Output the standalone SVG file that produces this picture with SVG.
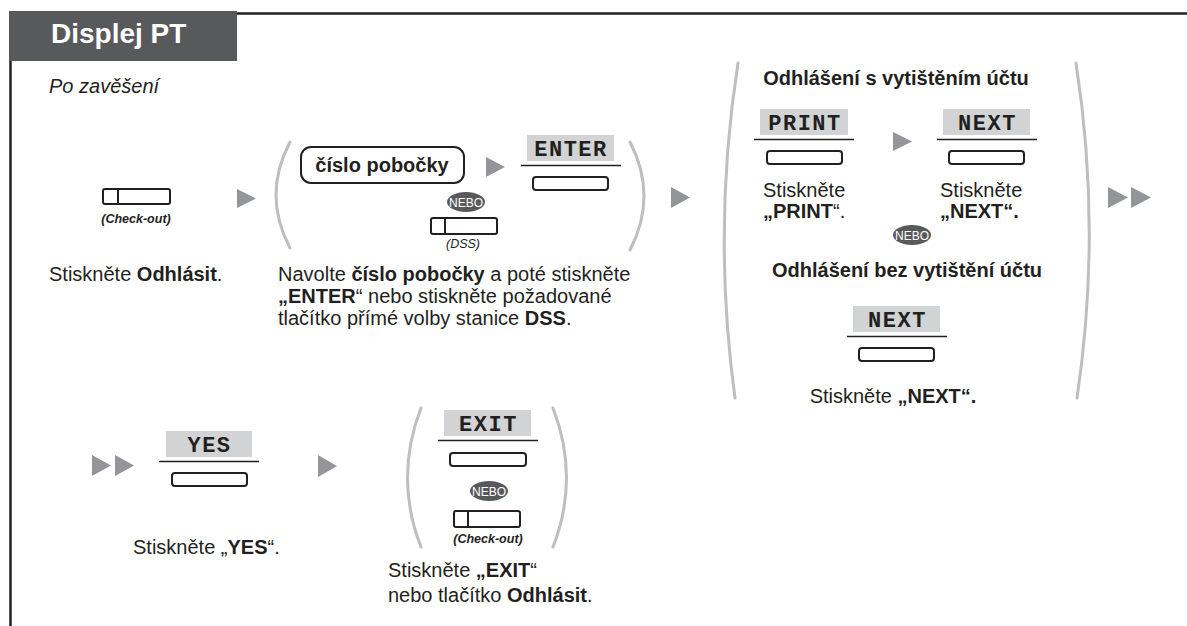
<svg xmlns="http://www.w3.org/2000/svg" width="1187" height="626" viewBox="0 0 1187 626">
<defs>
<style>
.t{font-family:"Liberation Sans",Arial,sans-serif;font-size:20px;fill:#231f20}
.b{font-weight:bold}
.mono{font-family:"Liberation Mono","Courier New",monospace;font-weight:bold;font-size:22px;letter-spacing:1.5px;fill:#231f20;text-anchor:middle}
.lbg{fill:#d1d3d4}
.rule{stroke:#231f20;stroke-width:1.5}
.btn{fill:#fff;stroke:#231f20;stroke-width:2}
.par{fill:none;stroke:#bcbec0;stroke-width:3;stroke-linecap:round}
.arr{fill:#939598}
.nebo{fill:#58595b}
.nt{font-family:"Liberation Sans",Arial,sans-serif;font-size:12px;fill:#fff;text-anchor:middle}
.co{font-family:"Liberation Sans",Arial,sans-serif;font-size:12.5px;font-style:italic;font-weight:bold;fill:#231f20;text-anchor:middle}
</style>
</defs>
<rect width="1187" height="626" fill="#fff"/>
<g id="frame">
<line x1="10.5" y1="11" x2="10.5" y2="626" stroke="#231f20" stroke-width="2.5"/>
<line x1="237" y1="13.5" x2="1187" y2="13.5" stroke="#231f20" stroke-width="2.5"/>
<rect x="9" y="11" width="228" height="50" fill="#58595b"/>
<text x="51" y="43" font-family="Liberation Sans,Arial,sans-serif" font-size="28" font-weight="bold" fill="#fff">Displej PT</text>
<text x="49" y="93" class="t" font-style="italic">Po zavěšení</text>
</g>
<g id="checkout">
<rect x="103" y="189" width="67" height="15" rx="2" class="btn"/>
<line x1="118" y1="189" x2="118" y2="204" stroke="#231f20" stroke-width="2"/>
<text x="136" y="223" class="co">(Check-out)</text>
<text x="49" y="281" class="t" font-size="18.5">Stiskněte <tspan class="b">Odhlásit</tspan>.</text>
</g>
<g id="extension">
<path class="par" d="M290 142 Q262 195 290 248"/>
<path class="par" d="M630 142 Q658 196 630 250"/>
<rect x="301" y="147" width="163" height="36" rx="10" fill="#fff" stroke="#231f20" stroke-width="2"/>
<text x="382" y="172" class="t b" font-size="16" text-anchor="middle">číslo pobočky</text>
<ellipse cx="466" cy="202" rx="19" ry="10" class="nebo"/>
<text x="466" y="206.5" class="nt">NEBO</text>
<rect x="431" y="218" width="66" height="16" rx="2" class="btn"/>
<line x1="445" y1="218" x2="445" y2="234" stroke="#231f20" stroke-width="2"/>
<text x="463" y="248" font-family="Liberation Sans,Arial,sans-serif" font-size="12.5" font-style="italic" fill="#231f20" text-anchor="middle">(DSS)</text>
<rect x="527" y="135" width="87" height="26" class="lbg"/>
<text x="571" y="156" class="mono">ENTER</text>
<line x1="521" y1="165.5" x2="621" y2="165.5" class="rule"/>
<rect x="533" y="177" width="75" height="13" rx="3" class="btn"/>
<text x="278" y="281" class="t">Navolte <tspan class="b">číslo pobočky</tspan> a poté stiskněte</text>
<text x="278" y="303" class="t"><tspan class="b">„ENTER</tspan>“ nebo stiskněte požadované</text>
<text x="278" y="325" class="t">tlačítko přímé volby stanice <tspan class="b">DSS</tspan>.</text>
</g>
<g id="print-next">
<path class="par" d="M738 63 Q712 230 735 398"/>
<path class="par" d="M1076 63 Q1102 230 1077 398"/>
<text x="896" y="85" class="t b" text-anchor="middle">Odhlášení s vytištěním účtu</text>
<rect x="760" y="109" width="88" height="26" class="lbg"/>
<text x="805" y="130" class="mono">PRINT</text>
<line x1="754" y1="139.5" x2="854" y2="139.5" class="rule"/>
<rect x="767" y="151" width="75" height="13" rx="3" class="btn"/>
<text x="763" y="197" class="t" font-size="19.5">Stiskněte</text>
<text x="763" y="218" class="t" font-size="19.5"><tspan class="b">„PRINT</tspan>“.</text>
<rect x="943" y="109" width="87" height="26" class="lbg"/>
<text x="987.5" y="130" class="mono">NEXT</text>
<line x1="937" y1="139.5" x2="1037" y2="139.5" class="rule"/>
<rect x="949" y="151" width="75" height="13" rx="3" class="btn"/>
<text x="940" y="197" class="t" font-size="19.5">Stiskněte</text>
<text x="940" y="218" class="t b" font-size="19.5">„NEXT“.</text>
<ellipse cx="912" cy="235" rx="19" ry="10" class="nebo"/>
<text x="912" y="239.5" class="nt">NEBO</text>
<text x="907" y="277" class="t b" text-anchor="middle">Odhlášení bez vytištění účtu</text>
<rect x="853" y="306" width="87" height="26" class="lbg"/>
<text x="897.5" y="327" class="mono">NEXT</text>
<line x1="847" y1="336.5" x2="947" y2="336.5" class="rule"/>
<rect x="859" y="348" width="75" height="13" rx="3" class="btn"/>
<text x="893" y="403" class="t" text-anchor="middle">Stiskněte <tspan class="b">„NEXT“.</tspan></text>
</g>
<g id="yes">
<rect x="166" y="431" width="86" height="26" class="lbg"/>
<text x="209.5" y="452" class="mono">YES</text>
<line x1="159" y1="461.5" x2="259" y2="461.5" class="rule"/>
<rect x="172" y="473" width="75" height="13" rx="3" class="btn"/>
<text x="133" y="554" class="t" font-size="19">Stiskněte „<tspan class="b">YES</tspan>“.</text>
</g>
<g id="exit">
<path class="par" d="M421 408 Q394 478 421 547"/>
<path class="par" d="M553 408 Q580 478 553 547"/>
<rect x="444" y="410" width="87" height="26" class="lbg"/>
<text x="488.5" y="431" class="mono">EXIT</text>
<line x1="438" y1="440.5" x2="538" y2="440.5" class="rule"/>
<rect x="450" y="453" width="76" height="13" rx="3" class="btn"/>
<ellipse cx="489" cy="491" rx="19" ry="10" class="nebo"/>
<text x="489" y="495.5" class="nt">NEBO</text>
<rect x="454" y="511" width="66" height="16" rx="2" class="btn"/>
<line x1="468" y1="511" x2="468" y2="527" stroke="#231f20" stroke-width="2"/>
<text x="488" y="543" class="co">(Check-out)</text>
<text x="388" y="577" class="t">Stiskněte <tspan class="b">„EXIT</tspan>“</text>
<text x="388" y="602" class="t">nebo tlačítko <tspan class="b">Odhlásit</tspan>.</text>
</g>
<g id="connectors">
<polygon class="arr" points="237,189 256,198.5 237,208"/>
<polygon class="arr" points="486,157 505,167 486,177"/>
<polygon class="arr" points="671,187 690,197.5 671,208"/>
<polygon class="arr" points="893,132 912,141.5 893,151"/>
<polygon class="arr" points="1108,187 1128,197.5 1108,208"/>
<polygon class="arr" points="1131,187 1151,197.5 1131,208"/>
<polygon class="arr" points="92,455 111,465.5 92,476"/>
<polygon class="arr" points="115,455 134,465.5 115,476"/>
<polygon class="arr" points="318,455 337,466 318,477"/>
</g>
</svg>
